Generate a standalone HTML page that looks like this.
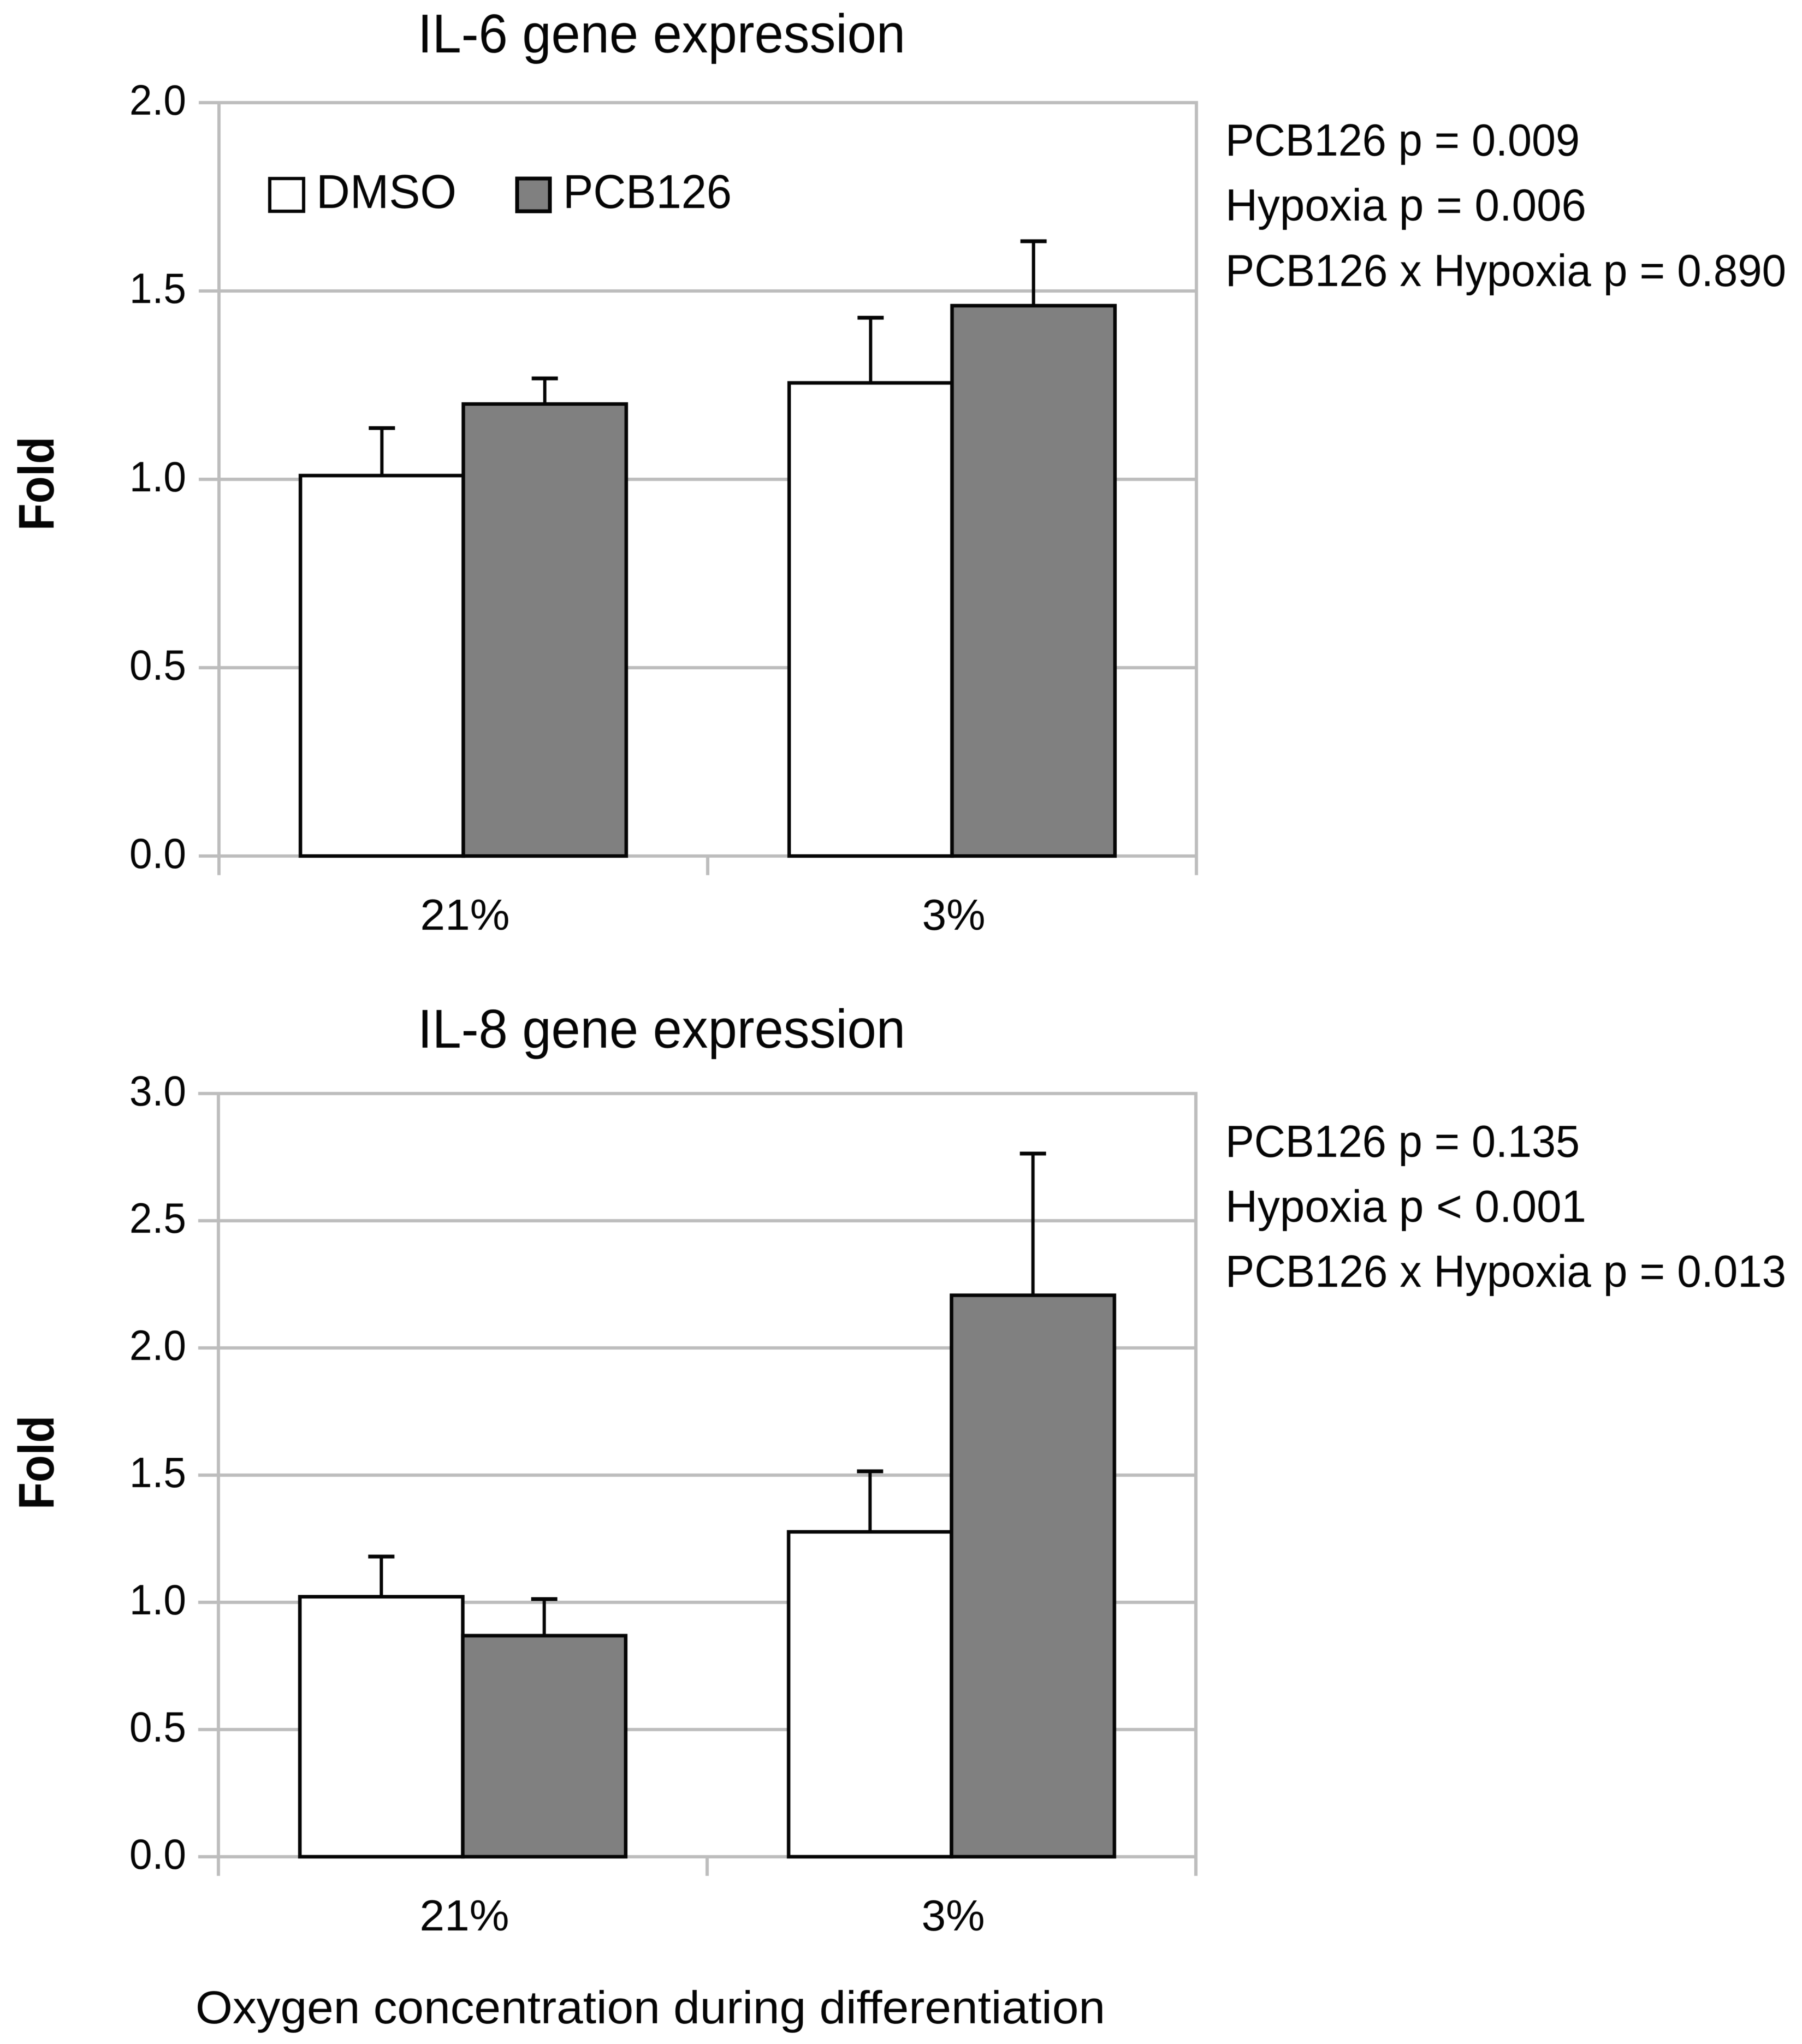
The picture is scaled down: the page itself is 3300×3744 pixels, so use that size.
<!DOCTYPE html>
<html lang="en">
<head>
<meta charset="utf-8">
<title>IL-6 and IL-8 gene expression</title>
<style>
html,body{margin:0;padding:0;background:#fff;}
svg{display:block;filter:blur(0.9px);}
text{font-family:"Liberation Sans",sans-serif;fill:#050505;}
</style>
</head>
<body>
<svg id="figure" xmlns="http://www.w3.org/2000/svg" width="3300" height="3744" viewBox="0 0 3300 3744">
  <rect x="0" y="0" width="3300" height="3744" fill="#ffffff"/>
  <g id="chart-a"></g>
  <g id="chart-b"></g>

  <text x="765" y="96" font-size="100" textLength="893" lengthAdjust="spacingAndGlyphs">IL-6 gene expression</text>
  <text x="765" y="1919" font-size="100" textLength="893" lengthAdjust="spacingAndGlyphs">IL-8 gene expression</text>

  <g>
    <rect x="494" y="327" width="62" height="60" fill="#ffffff" stroke="#050505" stroke-width="6"/>
    <text x="579" y="381" font-size="87" textLength="257" lengthAdjust="spacingAndGlyphs">DMSO</text>
    <rect x="947" y="327" width="60" height="60" fill="#808080" stroke="#050505" stroke-width="7"/>
    <text x="1031" y="381" font-size="87" textLength="309" lengthAdjust="spacingAndGlyphs">PCB126</text>
  </g>

  <g>
    <text x="2244" y="285" font-size="83" textLength="649" lengthAdjust="spacingAndGlyphs">PCB126 p = 0.009</text>
    <text x="2244" y="404" font-size="83" textLength="661" lengthAdjust="spacingAndGlyphs">Hypoxia p = 0.006</text>
    <text x="2244" y="524" font-size="83" textLength="1027" lengthAdjust="spacingAndGlyphs">PCB126 x Hypoxia p = 0.890</text>
  </g>
  <g>
    <text x="2244" y="2119" font-size="83" textLength="649" lengthAdjust="spacingAndGlyphs">PCB126 p = 0.135</text>
    <text x="2244" y="2238" font-size="83" textLength="661" lengthAdjust="spacingAndGlyphs">Hypoxia p &lt; 0.001</text>
    <text x="2244" y="2357" font-size="83" textLength="1027" lengthAdjust="spacingAndGlyphs">PCB126 x Hypoxia p = 0.013</text>
  </g>

  <text transform="translate(98 972) rotate(-90)" font-size="92" font-weight="bold" textLength="172" lengthAdjust="spacingAndGlyphs">Fold</text>
  <text transform="translate(98 2765) rotate(-90)" font-size="92" font-weight="bold" textLength="172" lengthAdjust="spacingAndGlyphs">Fold</text>
  <text x="358" y="3706" font-size="84" textLength="1666" lengthAdjust="spacingAndGlyphs">Oxygen concentration during differentiation</text>
</svg>

<script>
const categories = ['21%', '3%'];

const il6Ticks = ['0.0', '0.5', '1.0', '1.5', '2.0'];
const il6Dmso = [1.01, 1.256];
const il6Pcb126 = [1.20, 1.461];
const il6DmsoErr = [0.126, 0.173];
const il6Pcb126Err = [0.068, 0.171];

const il8Ticks = ['0.0', '0.5', '1.0', '1.5', '2.0', '2.5', '3.0'];
const il8Dmso = [1.022, 1.277];
const il8Pcb126 = [0.869, 2.207];
const il8DmsoErr = [0.158, 0.238];
const il8Pcb126Err = [0.144, 0.557];

const SVG_NS = 'http://www.w3.org/2000/svg';
const GRID = '#bdbdbd';
const INK = '#050505';

function makeLine(parent, x1, y1, x2, y2, color, width) {
  const el = document.createElementNS(SVG_NS, 'line');
  el.setAttribute('x1', x1);
  el.setAttribute('y1', y1);
  el.setAttribute('x2', x2);
  el.setAttribute('y2', y2);
  el.setAttribute('stroke', color);
  el.setAttribute('stroke-width', width);
  parent.appendChild(el);
  return el;
}

function makeText(parent, str, x, y, anchor, width, size) {
  const el = document.createElementNS(SVG_NS, 'text');
  el.textContent = str;
  el.setAttribute('x', x);
  el.setAttribute('y', y);
  el.setAttribute('font-size', size);
  el.setAttribute('text-anchor', anchor);
  el.setAttribute('textLength', width);
  el.setAttribute('lengthAdjust', 'spacingAndGlyphs');
  parent.appendChild(el);
  return el;
}

function drawChart(group, prefix, ticks, dmso, pcb, dmsoErr, pcbErr, frame) {
  const maxValue = parseFloat(ticks[ticks.length - 1]);
  const yAxis = v => frame.bottom - (v / maxValue) * (frame.bottom - frame.top);
  const band = (frame.right - frame.left) / categories.length;
  const barWidth = band / 3;
  const xAxis = (catIndex, seriesIndex) => frame.left + band * catIndex + band / 6 + seriesIndex * barWidth;

  ticks.forEach(t => {
    const y = yAxis(parseFloat(t));
    const grid = makeLine(group, frame.left - 37, y, frame.right + 3, y, GRID, 6);
    
    
    const label = makeText(group, t, 341, y + 22, 'end', 104, 78);
    
    
  });

  for (let i = 0; i <= categories.length; i++) {
    const x = frame.left + band * i;
    const top = (i === 0 || i === categories.length) ? frame.top : frame.bottom;
    const tick = makeLine(group, x, top, x, frame.bottom + 35, GRID, 6);
    
    
  }

  const series = [
    { name: 'dmso', values: dmso, errs: dmsoErr, fill: '#ffffff' },
    { name: 'pcb126', values: pcb, errs: pcbErr, fill: '#808080' }
  ];

  series.forEach((s, si) => {
    s.values.forEach((v, ci) => {
      const x = xAxis(ci, si);
      const y = yAxis(v);
      const cx = x + barWidth / 2;
      const capY = yAxis(v + s.errs[ci]);

      const stem = makeLine(group, cx, y, cx, capY, INK, 6);
      
      
      const cap = makeLine(group, cx - 24, capY, cx + 24, capY, INK, 7);
      
      

      const bar = document.createElementNS(SVG_NS, 'rect');
      bar.setAttribute('x', x);
      bar.setAttribute('y', y);
      bar.setAttribute('width', barWidth);
      bar.setAttribute('height', yAxis(0) - y);
      bar.setAttribute('fill', s.fill);
      bar.setAttribute('stroke', INK);
      bar.setAttribute('stroke-width', 6.5);
      
      
      group.appendChild(bar);
    });
  });

  categories.forEach((c, i) => {
    const cx = frame.left + band * (i + 0.5);
    const label = makeText(group, c, cx + 3, frame.labelY, 'middle', c.length === 3 ? 164 : 116, 80);
    
    
  });
}

drawChart(document.getElementById('chart-a'), 'il6', il6Ticks, il6Dmso, il6Pcb126, il6DmsoErr, il6Pcb126Err,
  { left: 401, right: 2191, top: 188, bottom: 1568, labelY: 1703 });
drawChart(document.getElementById('chart-b'), 'il8', il8Ticks, il8Dmso, il8Pcb126, il8DmsoErr, il8Pcb126Err,
  { left: 400, right: 2190, top: 2003, bottom: 3401, labelY: 3536 });
</script>
</body>
</html>
